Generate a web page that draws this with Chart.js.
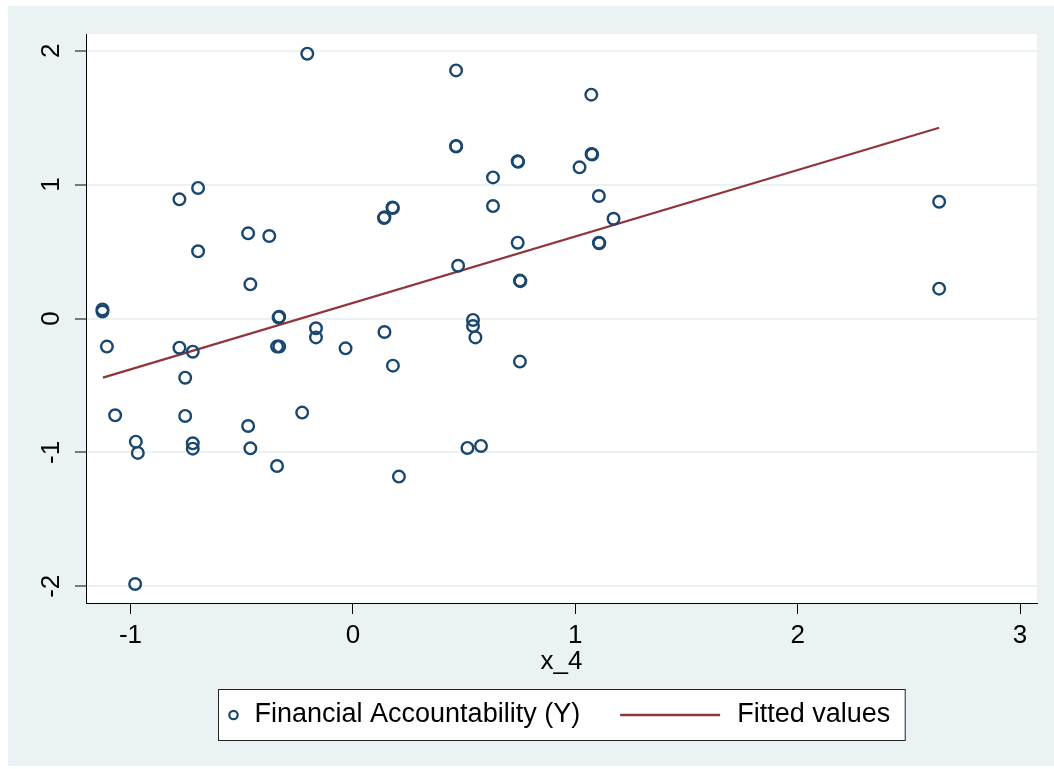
<!DOCTYPE html>
<html>
<head>
<meta charset="utf-8">
<title>Financial Accountability vs x_4</title>
<script src="https://cdn.jsdelivr.net/npm/chart.js@4/dist/chart.umd.min.js"></script>
<style>
    html, body { margin: 0; padding: 0; background: #ffffff; }
    #wrap { position: relative; width: 1054px; height: 769px; }
</style>
</head>
<body>
<div id="wrap"><canvas id="scatterChart"></canvas></div>
<script>
const xValues = [-0.205, -0.780, -0.696, -0.471, -0.376, -0.696, -0.461, -1.126, -1.126, -0.331,
    -0.334, 0.464, 1.072, 0.464, 0.464, 0.741, 0.743, 0.630, 1.019, 1.073,
    1.076, 1.106, 0.630, 0.178, 0.180, 0.142, 0.140, 1.172, 0.741, 1.106,
    1.108, 0.473, 0.751, 0.753, 0.540, 0.540, 2.636, 2.636, -1.106, -0.780,
    -0.720, -0.754, -1.069, -0.754, -0.228, -0.471, -0.976, -0.967, -0.720, -0.720,
    -0.461, -0.341, -0.979, -0.341, -0.331, -0.166, -0.166, -0.033, 0.142, 0.180,
    0.551, 0.751, 0.515, 0.576, 0.207];
const yValues = [1.978, 0.890, 0.975, 0.636, 0.616, 0.502, 0.255, 0.068, 0.052, 0.013,
    0.008, 1.853, 1.672, 1.288, 1.285, 1.174, 1.170, 1.054, 1.129, 1.229,
    1.225, 0.915, 0.840, 0.830, 0.825, 0.756, 0.750, 0.745, 0.566, 0.566,
    0.562, 0.394, 0.283, 0.279, -0.011, -0.056, 0.872, 0.223, -0.210, -0.218,
    -0.248, -0.442, -0.723, -0.728, -0.703, -0.803, -0.920, -1.004, -0.932, -0.972,
    -0.970, -1.102, -1.983, -0.210, -0.210, -0.073, -0.141, -0.223, -0.101, -0.352,
    -0.141, -0.322, -0.967, -0.952, -1.181];

// Fitted line end points
const fitX = [-1.124, 2.636];
const fitY = [-0.442, 1.425];

// Axis ticks
const xTicks = [-1, 0, 1, 2, 3];
const yTicks = [-2, -1, 0, 1, 2];

const seriesNames = ['Financial Accountability (Y)', 'Fitted values'];
const xTitle = 'x_4';

const NAVY = '#1a476f';
const MAROON = '#90353b';
const PANEL = '#eaf2f3';
const FONT = '"Liberation Sans", Arial, sans-serif';

// Page background, gray panel and white plot region
const backgroundPlugin = {
    id: 'stataBackground',
    beforeDraw(chart) {
        const ctx = chart.ctx;
        const area = chart.chartArea;
        ctx.save();
        ctx.fillStyle = '#ffffff';
        ctx.fillRect(0, 0, chart.width, chart.height);
        ctx.fillStyle = PANEL;
        ctx.fillRect(8, 6, chart.width - 8, chart.height - 9);
        ctx.fillStyle = '#ffffff';
        ctx.fillRect(area.left, area.top, area.right - area.left, area.bottom - area.top);
        ctx.restore();
    }
};

// Boxed legend under the axis title
const legendBoxPlugin = {
    id: 'legendBox',
    afterDraw(chart) {
        const ctx = chart.ctx;
        const area = chart.chartArea;
        ctx.save();
        ctx.font = '27px ' + FONT;
        const w1 = ctx.measureText(seriesNames[0]).width;
        const w2 = ctx.measureText(seriesNames[1]).width;
        const lineLen = 100;
        const total = 15 + 21 + w1 + 40 + lineLen + 17 + w2 + 15;
        const left = Math.round((area.left + area.right) / 2 - total / 2) + 0.5;
        const top = area.bottom + 86.5;
        const h = 51;
        const cy = top + h / 2;

        ctx.fillStyle = '#ffffff';
        ctx.fillRect(left, top, total, h);
        ctx.strokeStyle = '#222222';
        ctx.lineWidth = 1;
        ctx.strokeRect(left, top, total, h);

        // marker
        let x = left + 15;
        ctx.strokeStyle = NAVY;
        ctx.lineWidth = 2.2;
        ctx.beginPath();
        ctx.arc(x, cy, 4.2, 0, Math.PI * 2);
        ctx.stroke();

        // first label
        x += 21;
        ctx.fillStyle = '#000000';
        ctx.textBaseline = 'middle';
        ctx.textAlign = 'left';
        ctx.fillText(seriesNames[0], x, cy);

        // line sample
        x += w1 + 40;
        ctx.strokeStyle = MAROON;
        ctx.lineWidth = 2.4;
        ctx.beginPath();
        ctx.moveTo(x, cy);
        ctx.lineTo(x + lineLen, cy);
        ctx.stroke();

        // second label
        x += lineLen + 17;
        ctx.fillText(seriesNames[1], x, cy);
        ctx.restore();
    }
};

function initializeScatterChart() {
    const canvas = document.getElementById('scatterChart');

    Chart.defaults.font.family = FONT;
    Chart.defaults.font.size = 26;
    Chart.defaults.color = '#000000';

    const points = xValues.map((x, i) => ({ x: x, y: yValues[i] }));
    const fitted = fitX.map((x, i) => ({ x: x, y: fitY[i] }));

    const config = {
        type: 'scatter',
        data: {
            datasets: [{
                label: seriesNames[0],
                data: points,
                pointStyle: 'circle',
                pointRadius: 5.8,
                pointHoverRadius: 5.8,
                pointBorderWidth: 2.4,
                pointBorderColor: NAVY,
                pointBackgroundColor: 'rgba(0, 0, 0, 0)',
                order: 1
            }, {
                type: 'line',
                label: seriesNames[1],
                data: fitted,
                borderColor: MAROON,
                borderWidth: 2.2,
                pointRadius: 0,
                fill: false,
                order: 2
            }]
        },
        options: {
            responsive: true,
            maintainAspectRatio: false,
            animation: false,
            layout: {
                padding: { left: 8, top: 34, right: 17, bottom: 88 }
            },
            plugins: {
                legend: { display: false },
                tooltip: { enabled: false }
            },
            scales: {
                x: {
                    type: 'linear',
                    min: -1.2,
                    max: 3.076,
                    afterBuildTicks: scale => {
                        scale.ticks = xTicks.map(v => ({ value: v }));
                    },
                    afterFit: scale => {
                        scale.height = 78;
                    },
                    border: { display: true, color: '#000000', width: 1 },
                    grid: {
                        drawOnChartArea: false,
                        drawTicks: true,
                        tickLength: 11,
                        tickColor: '#000000',
                        tickWidth: 1
                    },
                    ticks: {
                        padding: 6,
                        maxRotation: 0,
                        callback: value => String(value)
                    },
                    title: {
                        display: true,
                        text: xTitle,
                        padding: { top: 0, bottom: 4 }
                    }
                },
                y: {
                    type: 'linear',
                    min: -2.125,
                    max: 2.125,
                    afterBuildTicks: scale => {
                        scale.ticks = yTicks.map(v => ({ value: v }));
                    },
                    afterFit: scale => {
                        scale.width = 78;
                    },
                    border: { display: true, color: '#000000', width: 1 },
                    grid: {
                        color: PANEL,
                        lineWidth: 2,
                        drawTicks: true,
                        tickLength: 11,
                        tickColor: '#000000',
                        tickWidth: 1
                    },
                    ticks: {
                        padding: 12,
                        minRotation: 90,
                        maxRotation: 90,
                        crossAlign: 'center',
                        callback: value => String(value)
                    }
                }
            }
        },
        plugins: [backgroundPlugin, legendBoxPlugin]
    };

    new Chart(canvas, config);
}

document.addEventListener('DOMContentLoaded', initializeScatterChart);
</script>
</body>
</html>
